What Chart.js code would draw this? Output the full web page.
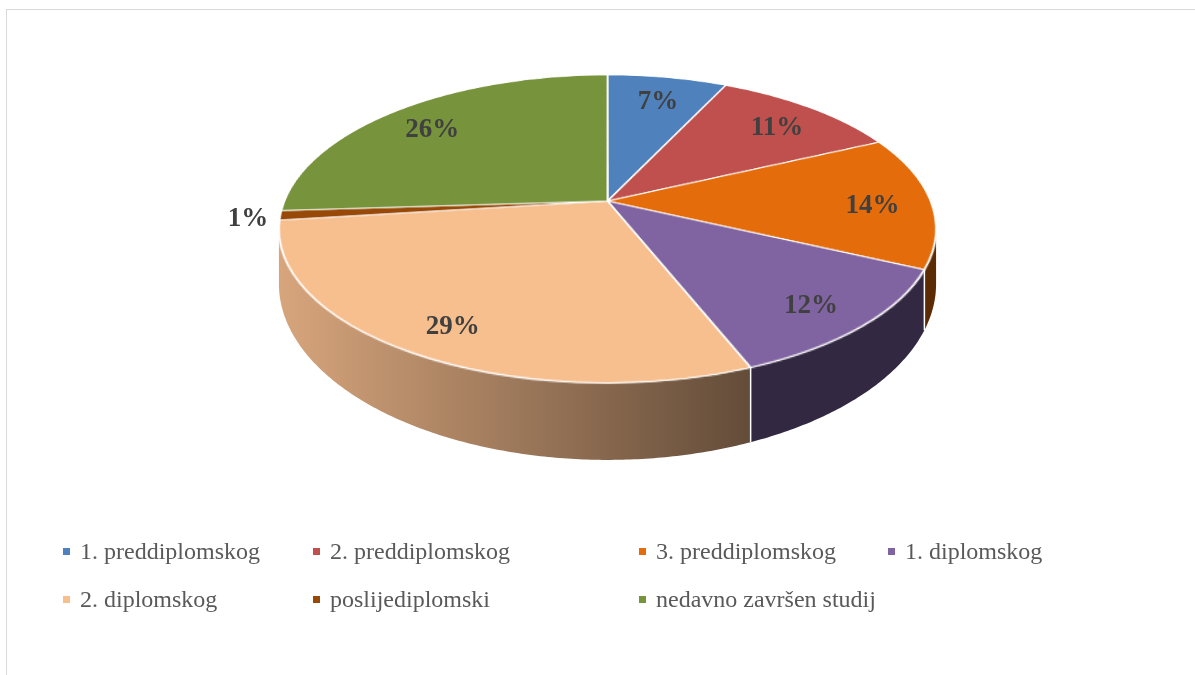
<!DOCTYPE html>
<html>
<head>
<meta charset="utf-8">
<script src="https://cdn.jsdelivr.net/npm/chart.js@4.4.0/dist/chart.umd.min.js"></script>
<style>
  html, body { margin: 0; padding: 0; background: #fff; overflow: hidden; }
  #frame { position: absolute; left: 6px; top: 9px; width: 1210px; height: 700px; border: 1px solid #d9d9d9; box-sizing: border-box; }
  #wrap { position: absolute; left: 0; top: 0; width: 1195px; height: 675px; }
  #legend { position: absolute; left: 63px; top: 527px; display: grid; grid-template-columns: 250px 326px 249px auto;
            font-family: "Liberation Serif", "Times New Roman", serif; font-size: 24px; line-height: 48px; color: #595959; }
  .item { display: flex; align-items: center; white-space: nowrap; }
  .box { width: 7px; height: 7px; margin-right: 10px; }
</style>
</head>
<body>
<div id="frame"></div>
<div id="wrap"><canvas id="pie"></canvas></div>
<div id="legend"></div>
<script>
const labels = ['1. preddiplomskog', '2. preddiplomskog', '3. preddiplomskog', '1. diplomskog',
                '2. diplomskog', 'poslijediplomski', 'nedavno završen studij'];
const values = [7, 11, 14, 12, 29, 1, 26];
const colors = ['#4F81BD', '#C0504D', '#E46C0A', '#8064A2', '#F7BE8E', '#984807', '#77933C'];

const total = values.reduce((a, b) => a + b, 0);

// perspective of the tilted pie: point (u, v) on the unit disc -> screen
// v < 0 is the far half, v > 0 the near half
const Y0 = 201;       // screen y of the pie centre
const PA = 148.9;     // vertical scale
const PB = -0.1818;   // perspective strength
const PC = 323.1;     // horizontal scale
const SQUASH = 0.47;  // flat pie is squashed first, then warped row by row

function proj(cx, u, v) {
  const d = 1 + PB * v;
  return [cx + PC * u / d, Y0 + PA * v / d];
}
function depth(v) {
  const d = 1 + PB * v;
  return 51.5 / (d * d);
}

function shade(hex, f) {
  const n = parseInt(hex.slice(1), 16);
  const r = Math.round(((n >> 16) & 255) * f);
  const g = Math.round(((n >> 8) & 255) * f);
  const b = Math.round((n & 255) * f);
  return `rgb(${r},${g},${b})`;
}

const pie3d = {
  id: 'pie3d',
  beforeDatasetsDraw(chart) {
    const ctx = chart.ctx;
    const arc0 = chart.getDatasetMeta(0).data[0];
    ctx.save();
    ctx.translate(0, arc0.y);
    ctx.scale(1, SQUASH);
    ctx.translate(0, -arc0.y);
  },
  afterDatasetsDraw(chart) {
    const ctx = chart.ctx;
    ctx.restore();
    const canvas = chart.canvas;
    const arcs = chart.getDatasetMeta(0).data;
    const cx = arcs[0].x, cy = arcs[0].y, R = arcs[0].outerRadius;

    // keep the flat drawing, then rebuild the picture in perspective
    const off = document.createElement('canvas');
    off.width = canvas.width;
    off.height = canvas.height;
    off.getContext('2d').drawImage(canvas, 0, 0);
    ctx.save();
    ctx.setTransform(1, 0, 0, 1, 0, 0);
    ctx.clearRect(0, 0, canvas.width, canvas.height);

    // side walls (front part only)
    const a0 = Math.asin(-PB), a1 = Math.PI - a0;
    arcs.forEach((arc, i) => {
      const s = Math.max(arc.startAngle, a0), e = Math.min(arc.endAngle, a1);
      if (e <= s) return;
      const n = Math.max(2, Math.ceil((e - s) / 0.01));
      const top = [];
      for (let k = 0; k <= n; k++) {
        const a = s + (e - s) * k / n;
        const v = Math.sin(a);
        const p = proj(cx, Math.cos(a), v);
        top.push([p[0], p[1], depth(v)]);
      }
      const g = ctx.createLinearGradient(cx - R, 0, cx + 0.435 * R, 0);
      g.addColorStop(0, shade(colors[i], 0.87));
      g.addColorStop(1, shade(colors[i], 0.4));
      ctx.beginPath();
      top.forEach((p, k) => k ? ctx.lineTo(p[0], p[1]) : ctx.moveTo(p[0], p[1]));
      for (let k = top.length - 1; k >= 0; k--) ctx.lineTo(top[k][0], top[k][1] + top[k][2]);
      ctx.closePath();
      ctx.fillStyle = g;
      ctx.fill();
    });
    ctx.strokeStyle = '#fff';
    ctx.lineWidth = 1.5;
    arcs.forEach(arc => {
      const a = arc.startAngle;
      if (a > a0 + 0.01 && a < a1 - 0.01) {
        const v = Math.sin(a);
        const p = proj(cx, Math.cos(a), v);
        ctx.beginPath();
        ctx.moveTo(p[0], p[1]);
        ctx.lineTo(p[0], p[1] + depth(v));
        ctx.stroke();
      }
    });

    // top face: copy the squashed pie row by row
    ctx.imageSmoothingEnabled = true;
    const yTop = Math.floor(Y0 - PA / (1 - PB)) - 1;
    const yBot = Math.ceil(Y0 + PA / (1 + PB)) + 1;
    for (let y = yTop; y <= yBot; y++) {
      const dy = y + 0.5 - Y0;
      const v = dy / (PA - PB * dy);
      if (v < -1.01 || v > 1.01) continue;
      const s = PC / (1 + PB * v);
      const sy = cy + v * R * SQUASH;
      ctx.drawImage(off, cx - R - 2, sy - 0.5, 2 * R + 4, 1, cx - s * (R + 2) / R, y, 2 * s * (R + 2) / R, 1);
    }

    // value labels
    ctx.font = 'bold 27px "Liberation Serif", "Times New Roman", serif';
    ctx.fillStyle = '#404040';
    ctx.textBaseline = 'middle';
    arcs.forEach((arc, i) => {
      const mid = (arc.startAngle + arc.endAngle) / 2;
      const c = Math.cos(mid), sn = Math.sin(mid);
      const txt = Math.round(values[i] / total * 100) + '%';
      if (values[i] / total < 0.03) {
        const p = proj(cx, c, sn);
        ctx.textAlign = c < 0 ? 'right' : 'left';
        ctx.fillText(txt, p[0] + (c < 0 ? -12 : 12), p[1] + 4);
      } else {
        const f = 0.82;
        const p = proj(cx, f * c, f * sn);
        ctx.textAlign = 'center';
        ctx.fillText(txt, p[0], p[1] + 5);
      }
    });
    ctx.restore();
  }
};

new Chart('pie', {
  type: 'pie',
  data: {
    labels: labels,
    datasets: [{
      data: values,
      backgroundColor: colors,
      borderColor: '#ffffff',
      borderWidth: 2,
      clip: false
    }]
  },
  options: {
    responsive: true,
    maintainAspectRatio: false,
    devicePixelRatio: 1,
    animation: false,
    layout: { padding: { top: 9, bottom: 9, left: 20, right: 0 } },
    plugins: { legend: { display: false }, tooltip: { enabled: false } }
  },
  plugins: [pie3d]
});

// legend in four columns like the original
const legendEl = document.getElementById('legend');
labels.forEach((lab, i) => {
  const item = document.createElement('div');
  item.className = 'item';
  const box = document.createElement('span');
  box.className = 'box';
  box.style.background = colors[i];
  const t = document.createElement('span');
  t.textContent = lab;
  item.appendChild(box);
  item.appendChild(t);
  legendEl.appendChild(item);
});
</script>
</body>
</html>
